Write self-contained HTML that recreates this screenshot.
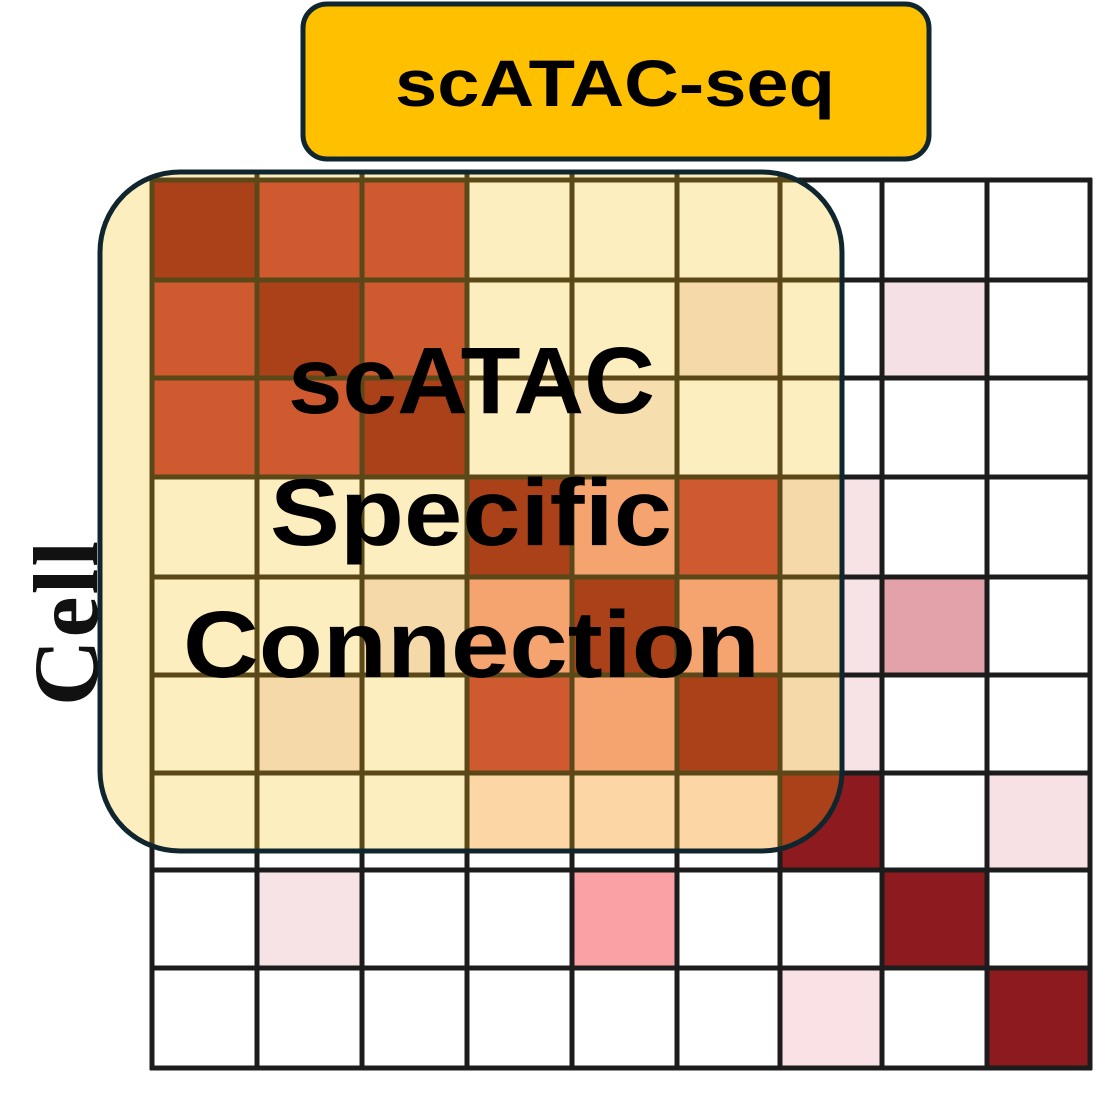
<!DOCTYPE html>
<html><head><style>html,body{margin:0;padding:0;background:#fff;}svg{display:block}</style></head>
<body>
<svg width="1114" height="1118" viewBox="0 0 1114 1118" xmlns="http://www.w3.org/2000/svg">
<defs>
<clipPath id="ov"><rect x="100" y="172" width="742" height="679" rx="80" ry="80"/></clipPath>
</defs>
<text transform="translate(97,706) rotate(-90)" font-family="Liberation Serif, serif" font-weight="bold" font-size="92" fill="#111" textLength="165" lengthAdjust="spacing">Cell</text>
<g id="base">
<rect x="152" y="180" width="938" height="888" fill="#fff"/>
<rect x="882" y="280" width="105" height="98" fill="#f5e0e5"/>
<rect x="780" y="477" width="102" height="100" fill="#f7e2e6"/>
<rect x="780" y="577" width="102" height="98" fill="#f7e2e6"/>
<rect x="882" y="577" width="105" height="98" fill="#e3a1a9"/>
<rect x="780" y="675" width="102" height="98" fill="#f7e2e6"/>
<rect x="780" y="773" width="102" height="97" fill="#8c1a1e"/>
<rect x="987" y="773" width="103" height="97" fill="#f8e1e5"/>
<rect x="257" y="870" width="105" height="98" fill="#f7e2e6"/>
<rect x="572" y="870" width="105" height="98" fill="#f9a1a5"/>
<rect x="882" y="870" width="105" height="98" fill="#8c1a1e"/>
<rect x="780" y="968" width="102" height="100" fill="#f9e1e5"/>
<rect x="987" y="968" width="103" height="100" fill="#8c1a1e"/>
<g stroke="#1c1c1c" stroke-width="5">
<line x1="152" y1="178" x2="152" y2="1070"/><line x1="257" y1="178" x2="257" y2="1070"/>
<line x1="362" y1="178" x2="362" y2="1070"/><line x1="467" y1="178" x2="467" y2="1070"/>
<line x1="572" y1="178" x2="572" y2="1070"/><line x1="677" y1="178" x2="677" y2="1070"/>
<line x1="780" y1="178" x2="780" y2="1070"/><line x1="882" y1="178" x2="882" y2="1070"/>
<line x1="987" y1="178" x2="987" y2="1070"/><line x1="1090" y1="178" x2="1090" y2="1070"/>
<line x1="150" y1="180" x2="1092" y2="180"/><line x1="150" y1="280" x2="1092" y2="280"/>
<line x1="150" y1="378" x2="1092" y2="378"/><line x1="150" y1="477" x2="1092" y2="477"/>
<line x1="150" y1="577" x2="1092" y2="577"/><line x1="150" y1="675" x2="1092" y2="675"/>
<line x1="150" y1="773" x2="1092" y2="773"/><line x1="150" y1="870" x2="1092" y2="870"/>
<line x1="150" y1="968" x2="1092" y2="968"/><line x1="150" y1="1068" x2="1092" y2="1068"/>
</g>
</g>
<g clip-path="url(#ov)">
<rect x="100" y="172" width="742" height="679" fill="#fdeec0"/>
<rect x="152" y="180" width="105" height="100" fill="#ab4119"/>
<rect x="257" y="180" width="105" height="100" fill="#d05a30"/>
<rect x="362" y="180" width="105" height="100" fill="#d05a30"/>
<rect x="152" y="280" width="105" height="98" fill="#d05a30"/>
<rect x="257" y="280" width="105" height="98" fill="#ab4119"/>
<rect x="362" y="280" width="105" height="98" fill="#d05a30"/>
<rect x="677" y="280" width="103" height="98" fill="#f6d9a8"/>
<rect x="152" y="378" width="105" height="99" fill="#d05a30"/>
<rect x="257" y="378" width="105" height="99" fill="#d05a30"/>
<rect x="362" y="378" width="105" height="99" fill="#ab4119"/>
<rect x="572" y="378" width="105" height="99" fill="#f6deae"/>
<rect x="467" y="477" width="105" height="100" fill="#ab4119"/>
<rect x="572" y="477" width="105" height="100" fill="#f5a46f"/>
<rect x="677" y="477" width="103" height="100" fill="#d05a30"/>
<rect x="780" y="477" width="102" height="100" fill="#f6d9a8"/>
<rect x="362" y="577" width="105" height="98" fill="#f6d9a8"/>
<rect x="467" y="577" width="105" height="98" fill="#f5a46f"/>
<rect x="572" y="577" width="105" height="98" fill="#ab4119"/>
<rect x="677" y="577" width="103" height="98" fill="#f5a46f"/>
<rect x="780" y="577" width="102" height="98" fill="#f6d9a8"/>
<rect x="257" y="675" width="105" height="98" fill="#f6d9a8"/>
<rect x="467" y="675" width="105" height="98" fill="#d05a30"/>
<rect x="572" y="675" width="105" height="98" fill="#f5a46f"/>
<rect x="677" y="675" width="103" height="98" fill="#ab4119"/>
<rect x="780" y="675" width="102" height="98" fill="#f6d9a8"/>
<rect x="467" y="773" width="105" height="97" fill="#fdd6a6"/>
<rect x="572" y="773" width="105" height="97" fill="#fdd6a6"/>
<rect x="677" y="773" width="103" height="97" fill="#fdd6a6"/>
<rect x="780" y="773" width="102" height="97" fill="#ab4119"/>
<g stroke="#5a4818" stroke-width="5">
<line x1="152" y1="170" x2="152" y2="860"/><line x1="257" y1="170" x2="257" y2="860"/>
<line x1="362" y1="170" x2="362" y2="860"/><line x1="467" y1="170" x2="467" y2="860"/>
<line x1="572" y1="170" x2="572" y2="860"/><line x1="677" y1="170" x2="677" y2="860"/>
<line x1="780" y1="170" x2="780" y2="860"/>
<line x1="150" y1="180" x2="850" y2="180"/><line x1="150" y1="280" x2="850" y2="280"/>
<line x1="150" y1="378" x2="850" y2="378"/><line x1="150" y1="477" x2="850" y2="477"/>
<line x1="150" y1="577" x2="850" y2="577"/><line x1="150" y1="675" x2="850" y2="675"/>
<line x1="150" y1="773" x2="850" y2="773"/>
</g>
</g>
<rect x="100" y="172" width="742" height="679" rx="80" ry="80" fill="none" stroke="#10262f" stroke-width="5"/>
<g font-family="Liberation Sans, sans-serif" font-weight="bold" font-size="95" fill="#000" lengthAdjust="spacingAndGlyphs">
<text x="288" y="413" textLength="367" lengthAdjust="spacingAndGlyphs">scATAC</text>
<text x="270" y="545" textLength="402" lengthAdjust="spacingAndGlyphs">Specific</text>
<text x="183" y="677" textLength="577" lengthAdjust="spacingAndGlyphs">Connection</text>
</g>
<rect x="303" y="4" width="626" height="155" rx="24" ry="24" fill="#ffc000" stroke="#10262f" stroke-width="5"/>
<text x="395" y="106" font-family="Liberation Sans, sans-serif" font-weight="bold" font-size="66" fill="#000" textLength="440" lengthAdjust="spacingAndGlyphs">scATAC-seq</text>
</svg>
</body></html>
